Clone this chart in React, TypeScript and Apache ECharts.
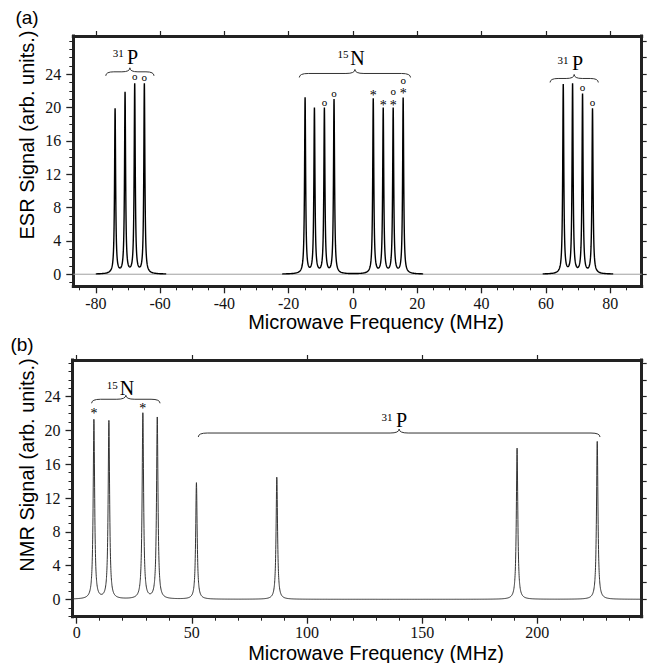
import React, { useEffect, useRef } from "react";
import * as echarts from "echarts";

// ---------------- data: panel (a) ESR ----------------
const esrP1Centers = [-74.0, -70.9, -67.9, -64.9];
const esrP1Heights = [19.8, 21.7, 22.7, 22.8];
const esrNCenters = [-14.9, -12.0, -8.9, -5.9, 6.3, 9.4, 12.5, 15.6];
const esrNHeights = [21.1, 19.8, 19.8, 20.9, 21.0, 19.8, 19.8, 21.1];
const esrP2Centers = [65.4, 68.3, 71.4, 74.5];
const esrP2Heights = [22.7, 22.7, 21.5, 19.8];
const esrGroupRanges = [
  [-80, -58],
  [-22, 22],
  [59, 81],
];
const esrHalfWidth = 0.2; // MHz, Lorentzian HWHM

// ---------------- data: panel (b) NMR ----------------
const nmrCenters = [7.5, 14.0, 28.75, 35.0, 52.0, 86.9, 191.2, 226.0];
const nmrHeights = [21.3, 21.1, 22.0, 21.5, 13.8, 14.5, 17.9, 18.7];
const nmrHalfWidth = 0.38;

// ---------------- axes / ticks ----------------
const esrXRange = [-87, 89.8];
const esrYRange = [-1.45, 28.6];
const nmrXRange = [-1.8, 245.3];
const nmrYRange = [-2.06, 28.35];
const esrXTicks = [-80, -60, -40, -20, 0, 20, 40, 60, 80];
const esrXMinorStep = 5;
const nmrXTicks = [0, 50, 100, 150, 200];
const nmrXMinorStep = 10;
const yTicks = [0, 4, 8, 12, 16, 20, 24];
const yMinorStep = 1;
const yRightStep = 2;

// ---------------- annotations ----------------
const esrCircleMarks = [
  [-67.9, 23.7], [-64.9, 23.5], [-8.9, 20.5], [-5.9, 21.6],
  [12.5, 21.85], [15.6, 23.25], [71.4, 22.3], [74.5, 20.6],
];
const esrStarMarks = [
  [6.3, 21.7], [9.4, 20.5], [12.5, 20.5], [15.6, 21.9],
];
const nmrStarMarks = [
  [7.5, 22.2], [28.75, 22.8],
];
const esrGroupLabels = [
  { iso: "31", el: "P", x: -70.4, y: 26.1, from: -76.9, to: -61.9, braceY: 24.3 },
  { iso: "15", el: "N", x: -0.5, y: 26.0, from: -16.7, to: 17.9, braceY: 24.1 },
  { iso: "31", el: "P", x: 68.0, y: 25.3, from: 61.3, to: 76.3, braceY: 23.5 },
];
const nmrGroupLabels = [
  { iso: "15", el: "N", x: 19.2, y: 25.0, from: 6.5, to: 36.2, braceY: 23.7 },
  { iso: "31", el: "P", x: 138.4, y: 21.2, from: 52.8, to: 227.2, braceY: 19.7 },
];

const SERIF = "Liberation Serif, Times New Roman, serif";
const SANS = "Liberation Sans, Arial, sans-serif";
const FRAME = "#222";

function lorentz(centers: number[], heights: number[], g: number, from: number, to: number, step: number) {
  const n = Math.round((to - from) / step);
  const xs: number[] = [];
  for (let i = 0; i <= n; i++) xs.push(from + i * step);
  centers.forEach((c) => {
    if (c >= from && c <= to) xs.push(c);
  });
  xs.sort((a, b) => a - b);
  return xs.map((x) => {
    let y = 0;
    for (let i = 0; i < centers.length; i++) {
      const d = x - centers[i];
      y += (heights[i] * g * g) / (d * d + g * g);
    }
    return [x, y];
  });
}

function steps(min: number, max: number, step: number) {
  const out: number[] = [];
  const start = Math.ceil(min / step) * step;
  for (let v = start; v <= max + 1e-9; v += step) out.push(Math.round(v * 1000) / 1000);
  return out;
}

function xAxes(grid: number, range: number[], majors: number[], minorStep: number, margin: number) {
  const base = { type: "value", gridIndex: grid, min: range[0], max: range[1], splitLine: { show: false } };
  return [
    {
      ...base,
      position: "bottom",
      axisLine: { show: true, onZero: false, lineStyle: { color: FRAME, width: 3, cap: "square" } },
      axisTick: { show: true, inside: false, length: 7, customValues: majors, lineStyle: { color: FRAME, width: 1.3 } },
      axisLabel: { show: true, customValues: majors, margin, fontFamily: SERIF, fontSize: 16, color: "#111" },
    },
    {
      ...base,
      position: "bottom",
      axisLine: { show: false, onZero: false },
      axisTick: { show: true, inside: false, length: 4, customValues: steps(range[0], range[1], minorStep), lineStyle: { color: FRAME, width: 1 } },
      axisLabel: { show: false },
    },
    {
      ...base,
      position: "top",
      axisLine: { show: true, onZero: false, lineStyle: { color: FRAME, width: 3, cap: "square" } },
      axisTick: { show: true, inside: false, length: 5, customValues: majors, lineStyle: { color: FRAME, width: 1.2 } },
      axisLabel: { show: false },
    },
  ];
}

function yAxes(grid: number, range: number[]) {
  const base = { type: "value", gridIndex: grid, min: range[0], max: range[1], splitLine: { show: false } };
  return [
    {
      ...base,
      position: "left",
      axisLine: { show: true, onZero: false, lineStyle: { color: FRAME, width: 3, cap: "square" } },
      axisTick: { show: true, inside: false, length: 7, customValues: yTicks, lineStyle: { color: FRAME, width: 1.3 } },
      axisLabel: { show: true, customValues: yTicks, margin: 12, fontFamily: SERIF, fontSize: 16, color: "#111" },
    },
    {
      ...base,
      position: "left",
      axisLine: { show: false, onZero: false },
      axisTick: { show: true, inside: false, length: 4, customValues: steps(range[0], range[1], yMinorStep), lineStyle: { color: FRAME, width: 1 } },
      axisLabel: { show: false },
    },
    {
      ...base,
      position: "right",
      axisLine: { show: true, onZero: false, lineStyle: { color: FRAME, width: 3, cap: "square" } },
      axisTick: { show: true, inside: false, length: 5, customValues: steps(0, range[1], yRightStep), lineStyle: { color: FRAME, width: 1.2 } },
      axisLabel: { show: false },
    },
  ];
}

export default function App() {
  const ref = useRef<HTMLDivElement>(null);
  useEffect(() => {
    if (!ref.current) return;
    const chart = echarts.init(ref.current, undefined, { renderer: "svg" });
    const esrSeries = [
      [esrP1Centers, esrP1Heights],
      [esrNCenters, esrNHeights],
      [esrP2Centers, esrP2Heights],
    ].map(([c, h], i) => ({
      type: "line",
      xAxisIndex: 0,
      yAxisIndex: 0,
      data: lorentz(c, h, esrHalfWidth, esrGroupRanges[i][0], esrGroupRanges[i][1], 0.02),
      showSymbol: false,
      symbol: "none",
      silent: true,
      z: 3,
      lineStyle: { color: "#000", width: 1.4 },
    }));
    chart.setOption({
      animation: false,
      grid: [
        { left: 73.3, top: 36, width: 568.4, height: 250.3 },
        { left: 72.5, top: 360, width: 569.2, height: 256.7 },
      ],
      xAxis: [...xAxes(0, esrXRange, esrXTicks, esrXMinorStep, 9), ...xAxes(1, nmrXRange, nmrXTicks, nmrXMinorStep, 8)],
      yAxis: [...yAxes(0, esrYRange), ...yAxes(1, nmrYRange)],
      series: [
        {
          type: "line",
          xAxisIndex: 0,
          yAxisIndex: 0,
          data: [
            [esrXRange[0], 0],
            [esrXRange[1], 0],
          ],
          showSymbol: false,
          symbol: "none",
          silent: true,
          z: 1,
          lineStyle: { color: "#a0a0a0", width: 1 },
        },
        ...esrSeries,
        {
          type: "line",
          xAxisIndex: 3,
          yAxisIndex: 3,
          data: lorentz(nmrCenters, nmrHeights, nmrHalfWidth, nmrXRange[0], nmrXRange[1], 0.04),
          showSymbol: false,
          symbol: "none",
          silent: true,
          z: 3,
          lineStyle: { color: "#333", width: 1 },
        },
      ],
    });

    const toPx = (g: number, x: number, y: number) =>
      chart.convertToPixel({ xAxisIndex: g * 3, yAxisIndex: g * 3 } as any, [x, y]) as number[];

    const els: any[] = [];
    const text = (x: number, y: number, t: string, size: number, family: string, extra: any = {}) => ({
      type: "text",
      x,
      y,
      silent: true,
      ...extra,
      style: {
        text: t,
        fontSize: size,
        fontFamily: family,
        fill: "#000",
        align: "center",
        verticalAlign: "middle",
        textAlign: "center",
        textVerticalAlign: "middle",
        ...(extra.style || {}),
      },
    });
    const brace = (x0: number, x1: number, y: number) => {
      const xm = (x0 + x1) / 2;
      const c = Math.min(9, (x1 - x0) / 6);
      const st = { stroke: "#333", lineWidth: 1, fill: null };
      return [
        { type: "bezierCurve", silent: true, shape: { x1: x0, y1: y + 4, cpx1: x0, cpy1: y, x2: x0 + c, y2: y }, style: st },
        { type: "line", silent: true, shape: { x1: x0 + c, y1: y, x2: xm - c, y2: y }, style: st },
        { type: "bezierCurve", silent: true, shape: { x1: xm - c, y1: y, cpx1: xm, cpy1: y, x2: xm, y2: y - 4 }, style: st },
        { type: "bezierCurve", silent: true, shape: { x1: xm, y1: y - 4, cpx1: xm, cpy1: y, x2: xm + c, y2: y }, style: st },
        { type: "line", silent: true, shape: { x1: xm + c, y1: y, x2: x1 - c, y2: y }, style: st },
        { type: "bezierCurve", silent: true, shape: { x1: x1 - c, y1: y, cpx1: x1, cpy1: y, x2: x1, y2: y + 4 }, style: st },
      ];
    };
    const groupLabel = (g: number, L: any) => {
      const [cx, cy] = toPx(g, L.x, L.y);
      els.push(text(cx + 6, cy, L.el, 20, SERIF));
      els.push(text(cx - 3, cy - 3.5, L.iso, 11, SERIF, { style: { align: "right", textAlign: "right" } }));
      const [bx0, by] = toPx(g, L.from, L.braceY);
      const [bx1] = toPx(g, L.to, L.braceY);
      els.push(...brace(bx0, bx1, by));
    };
    esrGroupLabels.forEach((L) => groupLabel(0, L));
    nmrGroupLabels.forEach((L) => groupLabel(1, L));
    esrCircleMarks.forEach(([x, y]) => {
      const [px, py] = toPx(0, x, y);
      els.push(text(px, py - 1, "o", 11, SERIF));
    });
    esrStarMarks.forEach(([x, y]) => {
      const [px, py] = toPx(0, x, y);
      els.push(text(px, py + 2, "*", 14, SERIF));
    });
    nmrStarMarks.forEach(([x, y]) => {
      const [px, py] = toPx(1, x, y);
      els.push(text(px, py + 2, "*", 14, SERIF));
    });

    // panel tags and axis titles
    els.push(text(27, 17, "(a)", 19, SANS));
    els.push(text(22, 344, "(b)", 19, SANS));
    els.push(text(27, 135, "ESR Signal (arb. units.)", 20, SANS, { rotation: Math.PI / 2 }));
    els.push(text(27, 465, "NMR Signal (arb. units.)", 20, SANS, { rotation: Math.PI / 2 }));
    els.push(text(376, 322, "Microwave Frequency (MHz)", 20, SANS));
    els.push(text(376, 653, "Microwave Frequency (MHz)", 20, SANS));

    chart.setOption({ graphic: { elements: els } });

    return () => chart.dispose();
  }, []);
  return <div ref={ref} style={{ position: "absolute", left: 0, top: 0, width: 652, height: 663 }} />;
}
